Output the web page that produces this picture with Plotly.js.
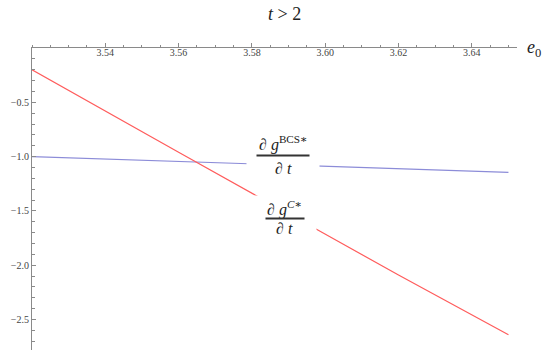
<!DOCTYPE html>
<html>
<head>
<meta charset="utf-8">
<script src="https://cdn.plot.ly/plotly-3.0.1.min.js"></script>
<style>
  html, body { margin: 0; padding: 0; background: #fff; }
  #chart { width: 550px; height: 362px; }
</style>
</head>
<body>
<div id="chart"></div>
<script>
// values
const e0 = [3.52, 3.56, 3.62, 3.65];
const dgBCS = [-1.00, -1.045, -1.11, -1.144];
const dgC = [-0.20, -0.96, -2.09, -2.64];
const xTicks = [3.54, 3.56, 3.58, 3.60, 3.62, 3.64];
const yTicks = [-0.5, -1.0, -1.5, -2.0, -2.5];

const serif = 'Liberation Serif, DejaVu Serif, serif';
const axisColor = '#8a8a8a';

function drawChart() {
    const traces = [
        {
            x: e0, y: dgBCS, mode: 'lines', name: 'BCS',
            line: { color: '#8c8cd8', width: 1.2 }, hoverinfo: 'skip'
        },
        {
            x: e0, y: dgC, mode: 'lines', name: 'C',
            line: { color: '#ff5c5c', width: 1.2 }, hoverinfo: 'skip'
        }
    ];

    // fraction label: white block behind, numerator, denominator, bar on top
    function fraction(x, yNum, yBar, yDen, num, barWidth, boxW, boxH) {
        const text = {
            xref: 'x', yref: 'y', x: x, showarrow: false,
            font: { family: serif, size: 16, color: '#222' }
        };
        return [
            {
                xref: 'x', yref: 'y', x: x, y: yBar, showarrow: false,
                text: ' ', width: boxW, height: boxH, borderpad: 0,
                bgcolor: '#fff', font: { size: 1 }
            },
            Object.assign({}, text, { y: yNum, text: num }),
            Object.assign({}, text, { y: yDen, text: '∂ <i>t</i>' }),
            {
                xref: 'x', yref: 'y', x: x, y: yBar, showarrow: false,
                text: ' ', width: barWidth, height: 1, borderpad: 0,
                bgcolor: '#333', font: { size: 1 }
            }
        ];
    }

    const annotations = [
        {
            xref: 'paper', yref: 'paper', x: 0.52, y: 1, yanchor: 'middle', yshift: 34,
            showarrow: false, text: '<i>t</i> &gt; 2',
            font: { family: serif, size: 18, color: '#222' }
        },
        {
            xref: 'paper', yref: 'paper', x: 1, xanchor: 'left', xshift: 8,
            y: 1, yanchor: 'middle', showarrow: false,
            text: '<i>e</i><sub>0</sub>',
            font: { family: serif, size: 18, color: '#222' }
        }
    ].concat(
        fraction(3.5885, -0.875, -0.994, -1.105, '∂ <i>g</i><sup>BCS∗</sup>', 52, 72, 48),
        fraction(3.5890, -1.473, -1.565, -1.657, '∂ <i>g</i><sup><i>C</i>∗</sup>', 38, 62, 44)
    );

    const layout = {
        width: 550,
        height: 362,
        margin: { l: 32, r: 33, t: 48, b: 12 },
        paper_bgcolor: '#fff',
        plot_bgcolor: '#fff',
        showlegend: false,
        xaxis: {
            range: [3.52, 3.65233],
            side: 'top',
            showgrid: false,
            zeroline: false,
            showline: true,
            linecolor: axisColor,
            linewidth: 1,
            ticks: 'outside',
            ticklen: 4,
            tickcolor: axisColor,
            tickmode: 'array',
            tickvals: xTicks,
            tickformat: '.2f',
            ticklabelposition: 'inside',
            tickfont: { family: serif, size: 10, color: '#444' },
            minor: { dtick: 0.005, tick0: 3.52, ticks: 'outside', ticklen: 2.5, tickcolor: axisColor }
        },
        yaxis: {
            range: [-2.78, 0],
            showgrid: false,
            zeroline: false,
            showline: true,
            linecolor: axisColor,
            linewidth: 1,
            ticks: 'inside',
            ticklen: 4,
            tickcolor: axisColor,
            tickmode: 'array',
            tickvals: yTicks,
            tickformat: '.1f',
            tickfont: { family: serif, size: 10, color: '#444' },
            minor: { dtick: 0.1, tick0: 0, ticks: 'inside', ticklen: 2.5, tickcolor: axisColor }
        },
        annotations: annotations
    };

    Plotly.newPlot('chart', traces, layout, { staticPlot: true });
}

document.addEventListener('DOMContentLoaded', drawChart);
</script>
</body>
</html>
